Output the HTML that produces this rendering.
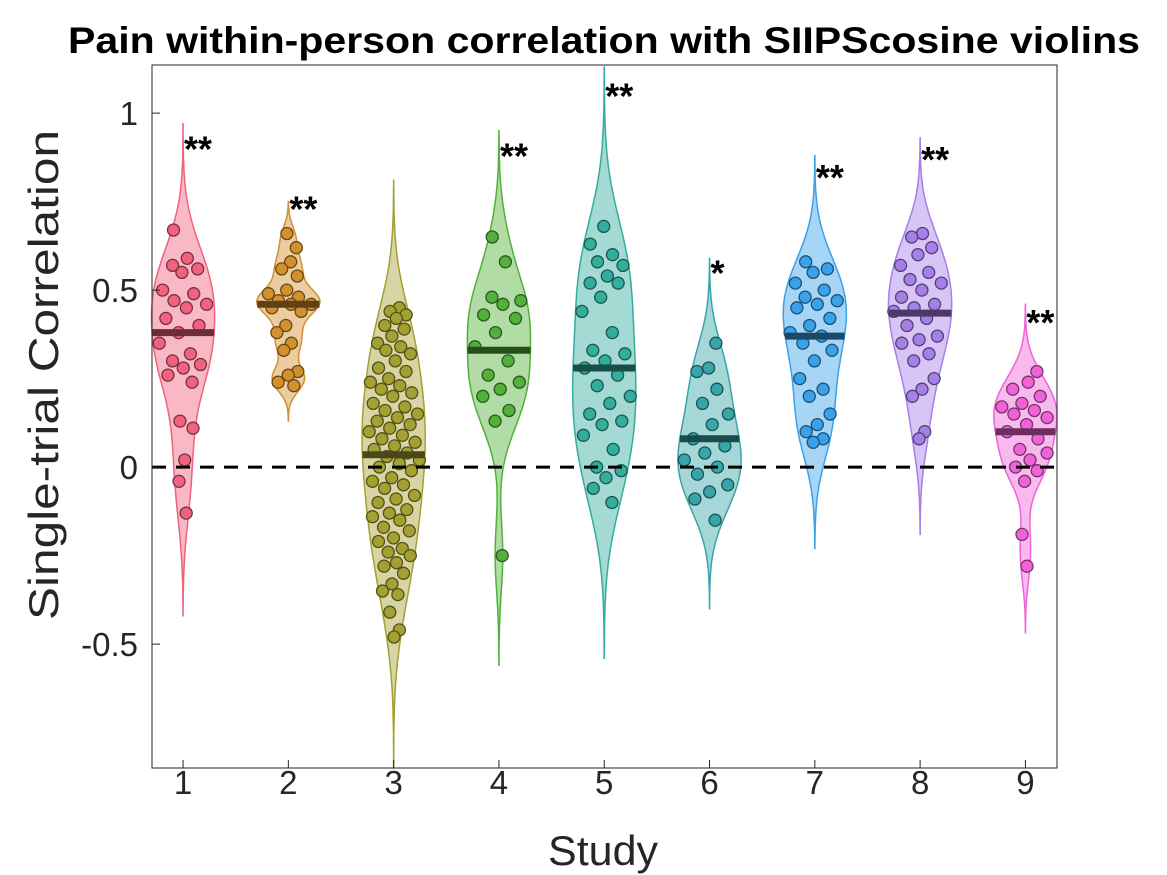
<!DOCTYPE html>
<html><head><meta charset="utf-8">
<style>
html,body{margin:0;padding:0;background:#fff;}
svg{display:block;font-family:"Liberation Sans",Arial,sans-serif;}
</style></head>
<body>
<svg id="chart" width="1167" height="875" viewBox="0 0 1167 875">
<text x="604" y="53" text-anchor="middle" font-size="37" font-weight="bold" fill="#000" textLength="1072" lengthAdjust="spacingAndGlyphs">Pain within-person correlation with SIIPScosine violins</text>
<g id="plot"></g>
<text x="603" y="865" text-anchor="middle" font-size="42" fill="#262626" textLength="110" lengthAdjust="spacingAndGlyphs">Study</text>
<text transform="translate(58,375) rotate(-90)" text-anchor="middle" font-size="42" fill="#262626" textLength="490" lengthAdjust="spacingAndGlyphs">Single-trial Correlation</text>
</svg>
<script>
const studies = [1,2,3,4,5,6,7,8,9];
const colors = ['#f0627e','#d2902f','#a4a132','#52b13a','#33ad9d','#38a6a8','#3aa2ea','#a67fe8','#f063d8'];
const s1 = [0.67,0.59,0.57,0.56,0.55,0.50,0.49,0.47,0.46,0.45,0.42,0.40,0.38,0.35,0.32,0.30,0.29,0.28,0.26,0.24,0.13,0.11,0.02,-0.04,-0.13];
const s2 = [0.66,0.62,0.58,0.56,0.54,0.50,0.49,0.48,0.47,0.46,0.46,0.45,0.44,0.40,0.38,0.35,0.33,0.27,0.26,0.24,0.23];
const s3 = [0.45,0.44,0.43,0.42,0.40,0.39,0.37,0.35,0.34,0.33,0.32,0.30,0.28,0.27,0.25,0.24,0.23,0.22,0.21,0.20,0.18,0.17,0.16,0.15,0.14,0.13,0.12,0.11,0.10,0.09,0.08,0.07,0.06,0.05,0.04,0.03,0.02,0.01,0.0,-0.01,-0.03,-0.04,-0.05,-0.06,-0.08,-0.09,-0.10,-0.12,-0.13,-0.14,-0.15,-0.17,-0.18,-0.20,-0.21,-0.23,-0.24,-0.25,-0.27,-0.28,-0.30,-0.33,-0.35,-0.36,-0.41,-0.46,-0.48];
const s4 = [0.65,0.58,0.48,0.47,0.46,0.43,0.42,0.38,0.34,0.30,0.26,0.24,0.22,0.20,0.16,0.13,-0.25];
const s5 = [0.68,0.63,0.60,0.58,0.57,0.54,0.52,0.52,0.48,0.44,0.38,0.33,0.32,0.30,0.28,0.26,0.23,0.20,0.18,0.15,0.13,0.12,0.09,0.05,0.0,-0.01,-0.03,-0.06,-0.1];
const s6 = [0.35,0.28,0.27,0.22,0.18,0.15,0.12,0.08,0.06,0.04,0.02,0.0,-0.02,-0.05,-0.07,-0.09,-0.15];
const s7 = [0.58,0.56,0.55,0.52,0.50,0.48,0.47,0.46,0.45,0.42,0.40,0.38,0.37,0.35,0.33,0.30,0.25,0.22,0.20,0.15,0.12,0.10,0.08,0.07];
const s8 = [0.66,0.65,0.62,0.60,0.57,0.55,0.53,0.52,0.50,0.48,0.46,0.45,0.44,0.42,0.40,0.37,0.36,0.35,0.32,0.30,0.25,0.22,0.20,0.10,0.08];
const s9 = [0.27,0.24,0.22,0.20,0.18,0.17,0.16,0.15,0.14,0.12,0.10,0.08,0.05,0.04,0.02,0.0,-0.01,-0.04,-0.19,-0.28];
const points = [s1,s2,s3,s4,s5,s6,s7,s8,s9];
const medians = [0.38,0.46,0.035,0.33,0.28,0.08,0.37,0.435,0.10];
const violinLo = [-0.42,0.13,-0.85,-0.56,-0.54,-0.40,-0.23,-0.19,-0.47];
const violinHi = [0.97,0.75,0.81,0.95,1.13,0.59,0.88,0.93,0.46];
const stars = ['**','**','','**','**','*','**','**','**'];
const starY = [0.92,0.75,0,0.90,1.07,0.57,0.84,0.89,0.43];
const yTicks = [-0.5,0,0.5,1];
const yTickLabels = ['-0.5','0','0.5','1'];

const L=152,R=1057,T=65,B=768;
const xMin=0.705,xMax=9.3,yMin=-0.85,yMax=1.136;
const xs=v=>L+(v-xMin)/(xMax-xMin)*(R-L);
const ys=v=>B-(v-yMin)/(yMax-yMin)*(B-T);
const NS='http://www.w3.org/2000/svg';
const plot=document.getElementById('plot');
function mk(tag,attrs,parent){const e=document.createElementNS(NS,tag);for(const k in attrs)e.setAttribute(k,attrs[k]);(parent||plot).appendChild(e);return e;}
function dark(hex,f){const n=parseInt(hex.slice(1),16);const r=(n>>16)&255,g=(n>>8)&255,b=n&255;return `rgb(${Math.round(r*f)},${Math.round(g*f)},${Math.round(b*f)})`;}
function light(hex,a){const n=parseInt(hex.slice(1),16);const r=(n>>16)&255,g=(n>>8)&255,b=n&255;return `rgb(${Math.round(r*a+255*(1-a))},${Math.round(g*a+255*(1-a))},${Math.round(b*a+255*(1-a))})`;}

mk('rect',{x:L,y:T,width:R-L,height:B-T,fill:'#fff',stroke:'none'});

studies.forEach((s,i)=>{
  const g=mk('g',{});
  
  
  const d=points[i];
  const mn=Math.min(...d),mx=Math.max(...d);
  const h=((violinHi[i]-mx)+(mn-violinLo[i]))/6;
  const N=120,ysamp=[],dens=[];
  for(let k=0;k<=N;k++){const y=violinLo[i]+(violinHi[i]-violinLo[i])*k/N;let s2=0;d.forEach(v=>{const z=(y-v)/h;s2+=Math.exp(-0.5*z*z);});ysamp.push(y);dens.push(s2);}
  const dm=Math.max(...dens);
  const hw=0.30;
  const widthAt=y=>{let s2=0;d.forEach(v=>{const z=(y-v)/h;s2+=Math.exp(-0.5*z*z);});return s2/dm*hw;};
  let p='';
  for(let k=0;k<=N;k++){p+=(k?'L':'M')+xs(s+dens[k]/dm*hw).toFixed(1)+','+ys(ysamp[k]).toFixed(1);}
  for(let k=N;k>=0;k--){p+='L'+xs(s-dens[k]/dm*hw).toFixed(1)+','+ys(ysamp[k]).toFixed(1);}
  p+='Z';
  const vp=mk('path',{d:p,fill:light(colors[i],0.45),stroke:colors[i],'stroke-width':1.5},g);
  
  
  d.forEach((v,j)=>{
    const w=widthAt(v)*0.85;
    const jit=(((j*0.61803+i*0.37)%1)*2-1)*w;
    const c=mk('circle',{cx:xs(s+jit).toFixed(1),cy:ys(v).toFixed(1),r:6,fill:colors[i],stroke:dark(colors[i],0.5),'stroke-width':1.3},g);
    
    
  });
  const mw=widthAt(medians[i]);
  const ml=mk('line',{x1:xs(s-mw),x2:xs(s+mw),y1:ys(medians[i]),y2:ys(medians[i]),stroke:dark(colors[i],0.45),'stroke-width':7},g);
  
  
  if(stars[i]){
    const t=mk('text',{x:xs(s)+1,y:ys(starY[i])+20,'font-size':36,'font-weight':'bold',fill:'#000'},g);
    t.textContent=stars[i];
    
    
  }
});

const zl=mk('line',{x1:L,x2:R,y1:ys(0),y2:ys(0),stroke:'#000','stroke-width':3,'stroke-dasharray':'14,10'});



const box=mk('rect',{x:L,y:T,width:R-L,height:B-T,fill:'none',stroke:'#262626','stroke-width':1});



yTicks.forEach((v,i)=>{
  mk('line',{x1:L,x2:L+8,y1:ys(v),y2:ys(v),stroke:'#262626','stroke-width':1});
  const t=mk('text',{x:L-14,y:ys(v)+12,'text-anchor':'end','font-size':33,fill:'#262626'});
  t.textContent=yTickLabels[i];
  
  
});
studies.forEach(s=>{
  mk('line',{x1:xs(s),x2:xs(s),y1:B,y2:B-8,stroke:'#262626','stroke-width':1});
  const t=mk('text',{x:xs(s),y:B+26,'text-anchor':'middle','font-size':33,fill:'#262626'});
  t.textContent=String(s);
  
  
});
</script>
</body></html>
